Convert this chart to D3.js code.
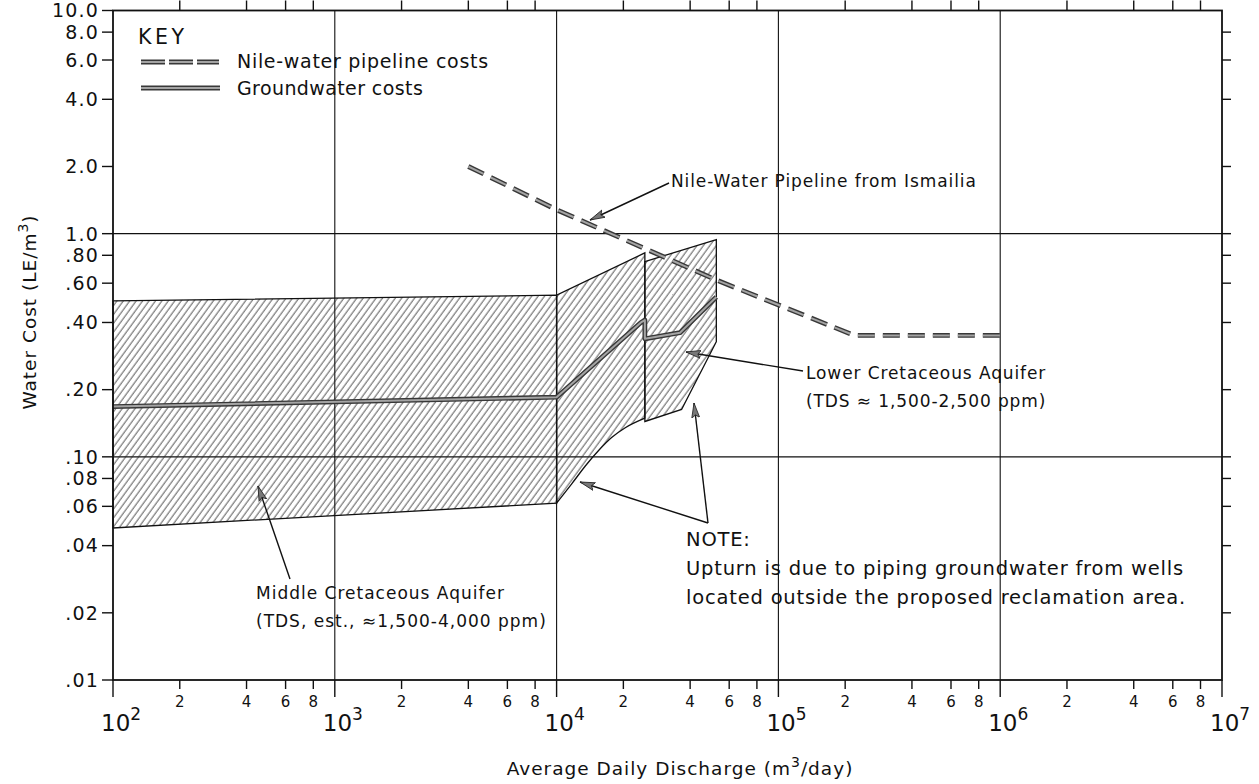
<!DOCTYPE html>
<html>
<head>
<meta charset="utf-8">
<script src="https://cdn.jsdelivr.net/npm/d3@7"></script>
<style>
  html, body { margin: 0; padding: 0; background: #fff; }
  svg { display: block; }
  text { font-family: "DejaVu Sans", "Liberation Sans", sans-serif; fill: #111; }
</style>
</head>
<body>
<svg id="chart" width="1259" height="784"></svg>
<script>
// ---- axis values ----
const xDecades = [1e2, 1e3, 1e4, 1e5, 1e6, 1e7];
const xDecadeExponents = ["2", "3", "4", "5", "6", "7"];
const xMinorMultipliers = [2, 4, 6, 8];
const xMinorLabels = ["2", "4", "6", "8"];
const xGridValues = [1e3, 1e4, 1e5, 1e6];
const yTickValues = [10, 8, 6, 4, 2, 1, 0.8, 0.6, 0.4, 0.2, 0.1, 0.08, 0.06, 0.04, 0.02, 0.01];
const yTickLabels = ["10.0", "8.0", "6.0", "4.0", "2.0", "1.0", ".80", ".60", ".40", ".20", ".10", ".08", ".06", ".04", ".02", ".01"];
const yGridValues = [1, 0.1];

// ---- Nile-water pipeline costs (LE/m3) ----
const pipelineDischarge = [4e3, 1e4, 5.25e4, 2.2e5, 1e6];
const pipelineCost = [2.0, 1.28, 0.62, 0.35, 0.35];

// ---- groundwater costs (LE/m3) ----
const groundwaterDischarge = [1e2, 1e4, 2.4e4, 2.5e4, 2.5e4, 3.6e4, 5.25e4];
const groundwaterCost = [0.168, 0.185, 0.40, 0.41, 0.338, 0.36, 0.52];

// ---- Middle Cretaceous aquifer cost range ----
const middleDischarge = [1e2, 1e4, 1e4, 1e2];
const middleCost = [0.50, 0.53, 0.062, 0.048];

// ---- upturn where groundwater is piped in from outside the area ----
const upturnTopDischarge = [1e4, 2.5e4];
const upturnTopCost = [0.53, 0.82];
const upturnFloorDischarge = [1e4, 1.17e4, 1.35e4, 1.55e4, 1.77e4, 2.04e4, 2.5e4];
const upturnFloorCost = [0.062, 0.0757, 0.0912, 0.107, 0.122, 0.135, 0.149];

// ---- Lower Cretaceous aquifer cost range ----
const lowerDischarge = [2.5e4, 5.25e4, 5.25e4, 4.84e4, 3.66e4, 2.5e4];
const lowerCost = [0.75, 0.94, 0.328, 0.28, 0.163, 0.144];

const svg = d3.select("#chart");
const x = d3.scaleLog().domain([1e2, 1e7]).range([113, 1222]);
const y = d3.scaleLog().domain([0.01, 10]).range([680, 10.5]);
const INK = "#111";

const defs = svg.append("defs");
defs.append("pattern")
  .attr("id", "hatch")
  .attr("patternUnits", "userSpaceOnUse")
  .attr("width", 5.2).attr("height", 10)
  .attr("patternTransform", "rotate(36)")
  .append("line")
  .attr("x1", 1).attr("y1", 0).attr("x2", 1).attr("y2", 10)
  .attr("stroke", "#222").attr("stroke-width", 0.8);

defs.append("marker")
  .attr("id", "arrowhead")
  .attr("markerUnits", "userSpaceOnUse")
  .attr("viewBox", "0 0 16 10")
  .attr("markerWidth", 16).attr("markerHeight", 10)
  .attr("refX", 15).attr("refY", 5)
  .attr("orient", "auto")
  .append("path")
  .attr("d", "M0,1 L15,5 L0,9 L3,5 Z")
  .attr("fill", "#777").attr("stroke", "#222").attr("stroke-width", 0.8);

const zip = (xs, ys) => xs.map((v, i) => [v, ys[i]]);
const line = d3.line().x(d => x(d[0])).y(d => y(d[1]));
const smooth = d3.line().x(d => x(d[0])).y(d => y(d[1])).curve(d3.curveMonotoneX);

// ---- grid ----
const grid = svg.append("g").attr("stroke", INK).attr("stroke-width", 1.1);
grid.selectAll(".gx").data(xGridValues).join("line")
  .attr("x1", d => x(d)).attr("x2", d => x(d))
  .attr("y1", y(10)).attr("y2", y(0.01));
grid.selectAll(".gy").data(yGridValues).join("line")
  .attr("x1", x(1e2)).attr("x2", x(1e7))
  .attr("y1", d => y(d)).attr("y2", d => y(d));

// ---- hatched cost ranges ----
const areas = svg.append("g")
  .attr("fill", "url(#hatch)").attr("stroke", INK).attr("stroke-width", 1.3);
areas.append("path").attr("d", line(zip(middleDischarge, middleCost)) + "Z");
{
  const floor = zip(upturnFloorDischarge, upturnFloorCost);
  const top = zip(upturnTopDischarge, upturnTopCost).reverse();
  const d = smooth(floor) + top.map(p => "L" + x(p[0]) + "," + y(p[1])).join("") + "Z";
  areas.append("path").attr("d", d);
}
areas.append("path").attr("d", line(zip(lowerDischarge, lowerCost)) + "Z");

// ---- cost curves (gray band with dark edges) ----
function bandLine(g, pts, dash) {
  const d = line(pts);
  g.append("path").attr("d", d).attr("fill", "none")
    .attr("stroke", "#383838").attr("stroke-width", 4.8)
    .attr("stroke-dasharray", dash).attr("stroke-linejoin", "round");
  g.append("path").attr("d", d).attr("fill", "none")
    .attr("stroke", "#a4a4a4").attr("stroke-width", 2)
    .attr("stroke-dasharray", dash).attr("stroke-linejoin", "round");
}
const curves = svg.append("g");
bandLine(curves, zip(groundwaterDischarge, groundwaterCost), null);
bandLine(curves, zip(pipelineDischarge, pipelineCost), "17,8");

// ---- frame ----
svg.append("rect")
  .attr("x", x(1e2)).attr("y", y(10))
  .attr("width", x(1e7) - x(1e2)).attr("height", y(0.01) - y(10))
  .attr("fill", "none").attr("stroke", INK).attr("stroke-width", 1.8);

// ---- ticks ----
const ticks = svg.append("g").attr("stroke", INK).attr("stroke-width", 1.4);
const xMinor = xDecades.slice(0, -1).flatMap(d => xMinorMultipliers.map(m => d * m));
ticks.selectAll(".tb").data(xMinor).join("line")
  .attr("x1", d => x(d)).attr("x2", d => x(d))
  .attr("y1", y(0.01)).attr("y2", y(0.01) + 9);
ticks.selectAll(".tbm").data(xDecades).join("line")
  .attr("x1", d => x(d)).attr("x2", d => x(d))
  .attr("y1", y(0.01)).attr("y2", y(0.01) + 17);
ticks.selectAll(".tt").data(xMinor).join("line")
  .attr("x1", d => x(d)).attr("x2", d => x(d))
  .attr("y1", y(10)).attr("y2", y(10) - 10);
ticks.selectAll(".tl").data(yTickValues).join("line")
  .attr("x1", x(1e2) - 11).attr("x2", x(1e2))
  .attr("y1", d => y(d)).attr("y2", d => y(d));
ticks.selectAll(".tr").data(yTickValues.slice(1, -1)).join("line")
  .attr("x1", x(1e7)).attr("x2", x(1e7) + 9)
  .attr("y1", d => y(d)).attr("y2", d => y(d));

// ---- tick labels ----
svg.append("g").selectAll("text").data(yTickValues).join("text")
  .attr("x", x(1e2) - 14).attr("y", d => y(d))
  .attr("dy", "0.36em").attr("text-anchor", "end")
  .attr("font-size", 19).attr("letter-spacing", 1.2)
  .text((d, i) => yTickLabels[i]);

svg.append("g").selectAll("text").data(xMinor).join("text")
  .attr("x", d => x(d)).attr("y", y(0.01) + 27)
  .attr("text-anchor", "middle").attr("font-size", 15)
  .text((d, i) => xMinorLabels[i % xMinorLabels.length]);

const majors = svg.append("g").selectAll("text").data(xDecades).join("text")
  .attr("x", d => x(d) - 12).attr("y", y(0.01) + 51)
  .attr("font-size", 23);
majors.append("tspan").text("10");
majors.append("tspan").attr("font-size", 17).attr("dy", -11)
  .text((d, i) => xDecadeExponents[i]);

// ---- axis titles ----
const xt = svg.append("text").attr("x", 680).attr("y", 775)
  .attr("text-anchor", "middle").attr("font-size", 18.5).attr("letter-spacing", 1);
xt.append("tspan").text("Average Daily Discharge (m");
xt.append("tspan").attr("font-size", 14).attr("dy", -8).text("3");
xt.append("tspan").attr("dy", 8).text("/day)");

const yt = svg.append("text")
  .attr("transform", "translate(36,312) rotate(-90)")
  .attr("text-anchor", "middle").attr("font-size", 18.5).attr("letter-spacing", 1);
yt.append("tspan").text("Water Cost (LE/m");
yt.append("tspan").attr("font-size", 14).attr("dy", -8).text("3");
yt.append("tspan").attr("dy", 8).text(")");

// ---- key ----
svg.append("text").attr("x", 138).attr("y", 44).attr("font-size", 20.5)
  .attr("letter-spacing", 3.5).text("KEY");
bandLine(svg.append("g"), [[x.invert(141), y.invert(62)], [x.invert(219), y.invert(62)]], "24,4");
bandLine(svg.append("g"), [[x.invert(141), y.invert(88)], [x.invert(220), y.invert(88)]], null);
svg.append("text").attr("x", 237).attr("y", 68).attr("font-size", 19)
  .attr("letter-spacing", 0.7).text("Nile-water pipeline costs");
svg.append("text").attr("x", 237).attr("y", 95).attr("font-size", 19)
  .attr("letter-spacing", 0.4).text("Groundwater costs");

// ---- annotations ----
function arrow(x1, y1, x2, y2) {
  svg.append("line").attr("x1", x1).attr("y1", y1).attr("x2", x2).attr("y2", y2)
    .attr("stroke", INK).attr("stroke-width", 1.4)
    .attr("marker-end", "url(#arrowhead)");
}
function label(tx, ty, lines, size, gap, spacing) {
  const t = svg.append("text").attr("font-size", size).attr("letter-spacing", spacing);
  lines.forEach((s, i) => t.append("tspan").attr("x", tx).attr("y", ty + i * gap).text(s));
}

label(671, 187, ["Nile-Water Pipeline from Ismailia"], 17, 0, 0.9);
arrow(669, 183, 590, 220);

label(806, 379, ["Lower Cretaceous Aquifer", "(TDS \u2248 1,500-2,500 ppm)"], 17, 28, 0.9);
arrow(803, 371, 686, 352);

label(686, 546, ["NOTE:", "Upturn is due to piping groundwater from wells", "located outside the proposed reclamation area."], 19.5, 29, 0.8);
arrow(708, 523, 580, 482);
arrow(708, 523, 694, 403);

label(256, 599, ["Middle Cretaceous Aquifer", "(TDS, est., \u22481,500-4,000 ppm)"], 17, 28, 1.0);
arrow(290, 579, 258, 486);
</script>
</body>
</html>
